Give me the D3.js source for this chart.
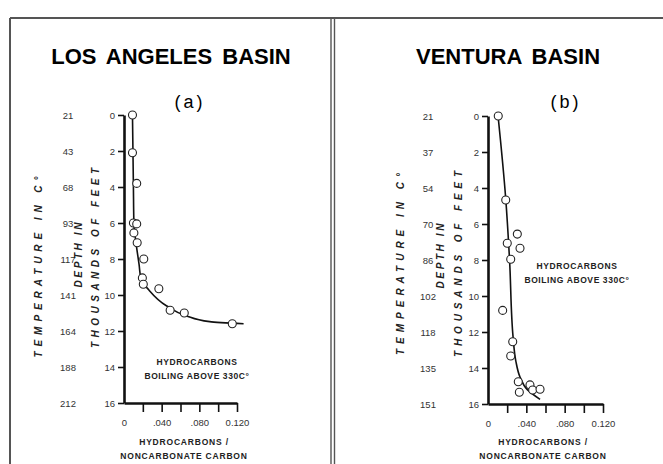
<!DOCTYPE html>
<html>
<head>
<meta charset="utf-8">
<script src="https://cdn.jsdelivr.net/npm/d3@7"></script>
<style>
  body { margin: 0; background: #fff; }
  svg { font-family: "Liberation Sans", Arial, sans-serif; }
  .tick text { fill: #333; font-size: 9.5px; }
  .title { font-weight: bold; font-size: 22px; word-spacing: 4px; }
  .panel-id { font-size: 18px; letter-spacing: 3px; }
  .rot { font-weight: bold; font-style: italic; font-size: 10px; fill: #222; }
  .note { font-weight: bold; font-size: 8.5px; letter-spacing: 0.6px; fill: #222; }
  .xlabel { font-weight: bold; font-size: 8.5px; letter-spacing: 0.8px; fill: #222; }
</style>
</head>
<body>
<script>
// Depth ticks (thousands of feet) and the ratio ticks on the x axis
var depthTicks = [0, 2, 4, 6, 8, 10, 12, 14, 16];
var ratioTicks = [0.02, 0.04, 0.06, 0.08, 0.10, 0.12];
var ratioLabelValues = [0, 0.04, 0.08, 0.12];
var ratioLabelText = ["0", ".040", ".080", "0.120"];

// Temperature labels that sit next to each depth tick
var laTemps = ["21", "43", "68", "93", "117", "141", "164", "188", "212"];
var vTemps = ["21", "37", "54", "70", "86", "102", "118", "135", "151"];

// Samples: [ratio, depth]
var laPoints = [
  [0.009, 0], [0.009, 2.1], [0.0135, 3.8], [0.010, 6.0], [0.0135, 6.05],
  [0.0105, 6.55], [0.014, 7.1], [0.021, 8.0], [0.0195, 9.05], [0.0205, 9.4],
  [0.037, 9.65], [0.049, 10.85], [0.064, 11.0], [0.115, 11.6]
];
var vPoints = [
  [0.0107, 0], [0.0185, 4.67], [0.0306, 6.56], [0.0201, 7.07], [0.0334, 7.35],
  [0.0237, 7.96], [0.0153, 10.8], [0.0258, 12.54], [0.0237, 13.33], [0.0316, 14.76],
  [0.0327, 15.35], [0.0438, 14.94], [0.0466, 15.22], [0.0543, 15.18]
];

// Hand-fitted trend curves
var laCurve = [
  [0.009, 0], [0.0095, 2], [0.010, 4], [0.0105, 6], [0.013, 7.2], [0.016, 8.3],
  [0.018, 9.1], [0.026, 9.7], [0.045, 10.6], [0.066, 11.15], [0.091, 11.48], [0.127, 11.6]
];
var vCurve = [
  [0.0105, 0], [0.0185, 4.6], [0.0225, 8], [0.0262, 12.3], [0.029, 13.6],
  [0.0334, 14.5], [0.041, 15.2], [0.0543, 15.74]
];

var width = 663, height = 464;

var svg = d3.select("body").append("svg")
    .attr("width", width)
    .attr("height", height);

// Frame lines of the figure
svg.append("line").attr("x1", 10).attr("x2", width).attr("y1", 18).attr("y2", 18)
    .attr("stroke", "#555").attr("stroke-width", 2);
svg.append("line").attr("x1", 10).attr("x2", 10).attr("y1", 18).attr("y2", height)
    .attr("stroke", "#555").attr("stroke-width", 2);
[331, 334.5].forEach(function(x) {
  svg.append("line").attr("x1", x).attr("x2", x).attr("y1", 18).attr("y2", height)
      .attr("stroke", "#555").attr("stroke-width", 1.4);
});

function drawPanel(p) {
  var xScale = d3.scaleLinear().domain([0, 0.12]).range([p.x0, p.x1]);
  var yScale = d3.scaleLinear().domain([0, 16]).range([p.y0, p.y1]);
  var tScale = d3.scalePoint().domain(p.temps).range([p.y0, p.y1]);

  svg.append("text").attr("class", "title")
      .attr("x", p.cx).attr("y", 64).attr("text-anchor", "middle").text(p.title);
  svg.append("text").attr("class", "panel-id")
      .attr("x", p.idx).attr("y", 108).attr("text-anchor", "middle").text(p.id);

  // Depth axis
  var yAxis = svg.append("g")
      .attr("transform", "translate(" + p.x0 + ",0)")
      .call(d3.axisLeft(yScale).tickValues(depthTicks).tickSize(6).tickPadding(3).tickSizeOuter(0));
  yAxis.select(".domain").attr("stroke", "#111").attr("stroke-width", 2.6);
  yAxis.selectAll(".tick line").attr("stroke", "#111").attr("stroke-width", 1.6);

  // Temperature labels
  var tAxis = svg.append("g")
      .attr("transform", "translate(" + p.tx + ",0)")
      .call(d3.axisLeft(tScale).tickSize(0).tickPadding(0));
  tAxis.select(".domain").remove();
  tAxis.selectAll(".tick text").attr("text-anchor", "middle");

  // Ratio axis: ticks, then labels
  var xAxis = svg.append("g")
      .attr("transform", "translate(0," + p.y1 + ")")
      .call(d3.axisBottom(xScale).tickValues(ratioTicks).tickSize(9).tickSizeOuter(0).tickFormat(""));
  xAxis.select(".domain").attr("stroke", "#111").attr("stroke-width", 2.6);
  xAxis.selectAll(".tick line").attr("stroke", "#111").attr("stroke-width", 1.6);

  var xLab = svg.append("g")
      .attr("transform", "translate(0," + p.y1 + ")")
      .call(d3.axisBottom(xScale).tickValues(ratioLabelValues).tickSize(0).tickPadding(16)
        .tickFormat(function(d, i) { return ratioLabelText[i]; }));
  xLab.select(".domain").remove();

  // Rotated axis titles
  p.rot.forEach(function(r) {
    svg.append("text").attr("class", "rot")
        .attr("transform", "translate(" + r[0] + "," + r[1] + ") rotate(-90)")
        .attr("text-anchor", "middle")
        .attr("textLength", r[3]).attr("lengthAdjust", "spacing")
        .text(r[2]);
  });

  // Notes and x title
  p.note.forEach(function(t, i) {
    svg.append("text").attr("class", "note")
        .attr("x", p.nx).attr("y", p.ny + i * 13.5).attr("text-anchor", "middle").text(t);
  });
  ["HYDROCARBONS /", "NONCARBONATE CARBON"].forEach(function(t, i) {
    svg.append("text").attr("class", "xlabel")
        .attr("x", p.lx).attr("y", 445 + i * 13.5).attr("text-anchor", "middle").text(t);
  });

  // Trend curve
  var line = d3.line()
      .x(function(d) { return xScale(d[0]); })
      .y(function(d) { return yScale(d[1]); })
      .curve(d3.curveMonotoneY);
  svg.append("path").datum(p.curve)
      .attr("d", line)
      .attr("fill", "none").attr("stroke", "#111").attr("stroke-width", 1.6);

  // Samples
  svg.append("g").selectAll("circle")
      .data(p.points)
    .enter().append("circle")
      .attr("cx", function(d) { return xScale(d[0]); })
      .attr("cy", function(d) { return yScale(d[1]); })
      .attr("r", 4)
      .attr("fill", "#fff").attr("stroke", "#222").attr("stroke-width", 1.1);
}

drawPanel({
  title: "LOS ANGELES BASIN", id: "(a)", cx: 171, idx: 190,
  x0: 124, x1: 237, y0: 115, y1: 403, tx: 68,
  temps: laTemps, points: laPoints, curve: laCurve,
  rot: [[42, 267, "TEMPERATURE IN C\u00B0", 181], [82, 255, "DEPTH IN", 65], [99, 258, "THOUSANDS OF FEET", 180]],
  note: ["HYDROCARBONS", "BOILING ABOVE 330C\u00B0"], nx: 197, ny: 365,
  lx: 184
});

drawPanel({
  title: "VENTURA BASIN", id: "(b)", cx: 508, idx: 566,
  x0: 488, x1: 603, y0: 116, y1: 404, tx: 428,
  temps: vTemps, points: vPoints, curve: vCurve,
  rot: [[404, 264, "TEMPERATURE IN C\u00B0", 182], [444, 256, "DEPTH IN", 65], [462, 264, "THOUSANDS OF FEET", 186]],
  note: ["HYDROCARBONS", "BOILING ABOVE 330C\u00B0"], nx: 577, ny: 269,
  lx: 543
});
</script>
</body>
</html>
